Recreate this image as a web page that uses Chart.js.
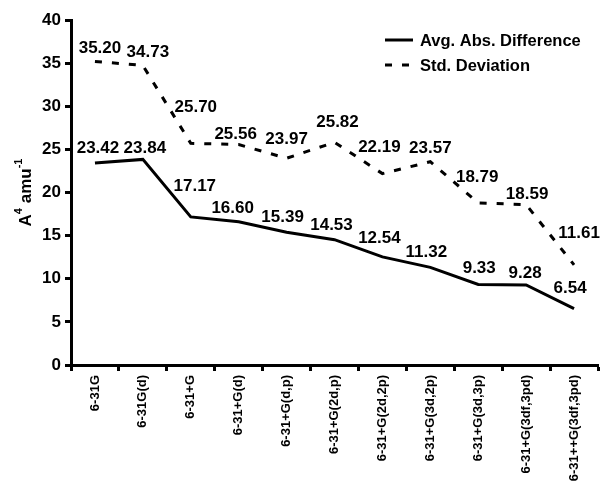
<!DOCTYPE html>
<html>
<head>
<meta charset="utf-8">
<script src="https://cdn.jsdelivr.net/npm/chart.js@4/dist/chart.umd.min.js"></script>
<style>
  html, body { margin: 0; padding: 0; background: #fff; }
  #wrap { width: 600px; height: 481px; position: relative; }
</style>
</head>
<body>
<div id="wrap"><canvas id="chart"></canvas></div>
<script>
// --- Chart data ---
const basisSets = ['6-31G', '6-31G(d)', '6-31+G', '6-31+G(d)', '6-31+G(d,p)', '6-31+G(2d,p)',
    '6-31+G(2d,2p)', '6-31+G(3d,2p)', '6-31+G(3d,3p)', '6-31+G(3df,3pd)', '6-31++G(3df,3pd)'];
const avgAbsDiff = [23.42, 23.84, 17.17, 16.60, 15.39, 14.53, 12.54, 11.32, 9.33, 9.28, 6.54];
const stdDev = [35.20, 34.73, 25.70, 25.56, 23.97, 25.82, 22.19, 23.57, 18.79, 18.59, 11.61];
const yTicks = [0, 5, 10, 15, 20, 25, 30, 35, 40];

// label nudges (px) so the value labels sit where the original placed them
const avgLabelDx = [3, 2, 4, -6, -4, -3, -3, -4, 1, -1, -4];
const avgLabelDy = [15, 11, 31, 14, 15, 14, 19, 15, 16, 12, 20];
const stdLabelDx = [5, 5, 5, -3, 0, 3, -3, 0, -1, 1, 5];
const stdLabelDy = [13, 13, 36, 10, 19, 20, 26, 13, 26, 10, 32];

const FONT = "'Liberation Sans', Arial, sans-serif";

// --- Value labels above the points ---
const valueLabels = {
    id: 'valueLabels',
    afterDatasetsDraw(chart) {
        const ctx = chart.ctx;
        ctx.save();
        ctx.font = 'bold 17px ' + FONT;
        ctx.fillStyle = '#000';
        ctx.textAlign = 'center';
        ctx.textBaseline = 'middle';
        chart.data.datasets.forEach((ds, di) => {
            const meta = chart.getDatasetMeta(di);
            meta.data.forEach((pt, i) => {
                const dx = ds.labelDx[i], dy = ds.labelDy[i];
                ctx.fillText(ds.data[i].toFixed(2), pt.x + dx, pt.y - dy);
            });
        });
        ctx.restore();
    }
};

// --- Legend in the top right corner ---
const cornerLegend = {
    id: 'cornerLegend',
    afterDraw(chart) {
        const ctx = chart.ctx;
        const x0 = 385, x1 = 413;
        ctx.save();
        ctx.strokeStyle = '#000';
        ctx.fillStyle = '#000';
        ctx.lineWidth = 3;
        ctx.font = 'bold 16.5px ' + FONT;
        ctx.textBaseline = 'middle';
        chart.data.datasets.forEach((ds, i) => {
            const y = 40 + i * 25;
            ctx.setLineDash(ds.borderDash || []);
            ctx.beginPath();
            ctx.moveTo(x0, y);
            ctx.lineTo(x1, y);
            ctx.stroke();
            ctx.setLineDash([]);
            ctx.fillText(ds.label, 420, y + 1);
        });
        ctx.restore();
    }
};

// --- Y axis title with real superscripts: A^4 amu^-1 ---
const yTitle = {
    id: 'yTitle',
    afterDraw(chart) {
        const ctx = chart.ctx;
        const area = chart.chartArea;
        const parts = [['A', false], ['4', true], [' amu', false], ['-1', true]];
        const big = 'bold 17px ' + FONT, small = 'bold 11px ' + FONT;
        ctx.save();
        let total = 0;
        parts.forEach(p => { ctx.font = p[1] ? small : big; total += ctx.measureText(p[0]).width; });
        ctx.translate(31, (area.top + area.bottom) / 2);
        ctx.rotate(-Math.PI / 2);
        ctx.fillStyle = '#000';
        ctx.textBaseline = 'alphabetic';
        let x = -total / 2;
        parts.forEach(p => {
            ctx.font = p[1] ? small : big;
            ctx.fillText(p[0], x, p[1] ? -9 : 0);
            x += ctx.measureText(p[0]).width;
        });
        ctx.restore();
    }
};

new Chart(document.getElementById('chart'), {
    type: 'line',
    data: {
        labels: basisSets,
        datasets: [{
            label: 'Avg. Abs. Difference',
            data: avgAbsDiff,
            borderColor: '#000',
            borderWidth: 3,
            pointRadius: 0,
            tension: 0,
            fill: false,
            labelDx: avgLabelDx,
            labelDy: avgLabelDy
        }, {
            label: 'Std. Deviation',
            data: stdDev,
            borderColor: '#000',
            borderWidth: 3,
            borderDash: [7, 10],
            pointRadius: 0,
            tension: 0,
            fill: false,
            labelDx: stdLabelDx,
            labelDy: stdLabelDy
        }]
    },
    options: {
        responsive: true,
        maintainAspectRatio: false,
        animation: false,
        layout: { padding: { top: 20, right: 2, left: 0, bottom: 0 } },
        scales: {
            x: {
                offset: true,
                grid: {
                    offset: true,
                    drawOnChartArea: false,
                    drawTicks: true,
                    tickLength: 6,
                    tickWidth: 3,
                    tickColor: '#000'
                },
                border: { display: true, color: '#000', width: 3 },
                ticks: {
                    color: '#000',
                    font: { family: FONT, size: 13, weight: 'bold' },
                    minRotation: 90,
                    maxRotation: 90,
                    autoSkip: false,
                    padding: 4
                },
                afterFit(scale) {
                    scale.height = 116;
                    scale.paddingLeft = 0;
                    scale.paddingRight = 0;
                }
            },
            y: {
                min: 0,
                max: 40,
                afterBuildTicks(scale) {
                    scale.ticks = yTicks.map(v => ({ value: v }));
                },
                grid: {
                    drawOnChartArea: false,
                    drawTicks: true,
                    tickLength: 6,
                    tickWidth: 3,
                    tickColor: '#000'
                },
                border: { display: true, color: '#000', width: 3 },
                ticks: {
                    color: '#000',
                    font: { family: FONT, size: 17, weight: 'bold' },
                    padding: 4
                },
                afterFit(scale) {
                    scale.width = 71;
                }
            }
        },
        plugins: {
            legend: { display: false },
            tooltip: { enabled: false }
        }
    },
    plugins: [valueLabels, cornerLegend, yTitle]
});
</script>
</body>
</html>
